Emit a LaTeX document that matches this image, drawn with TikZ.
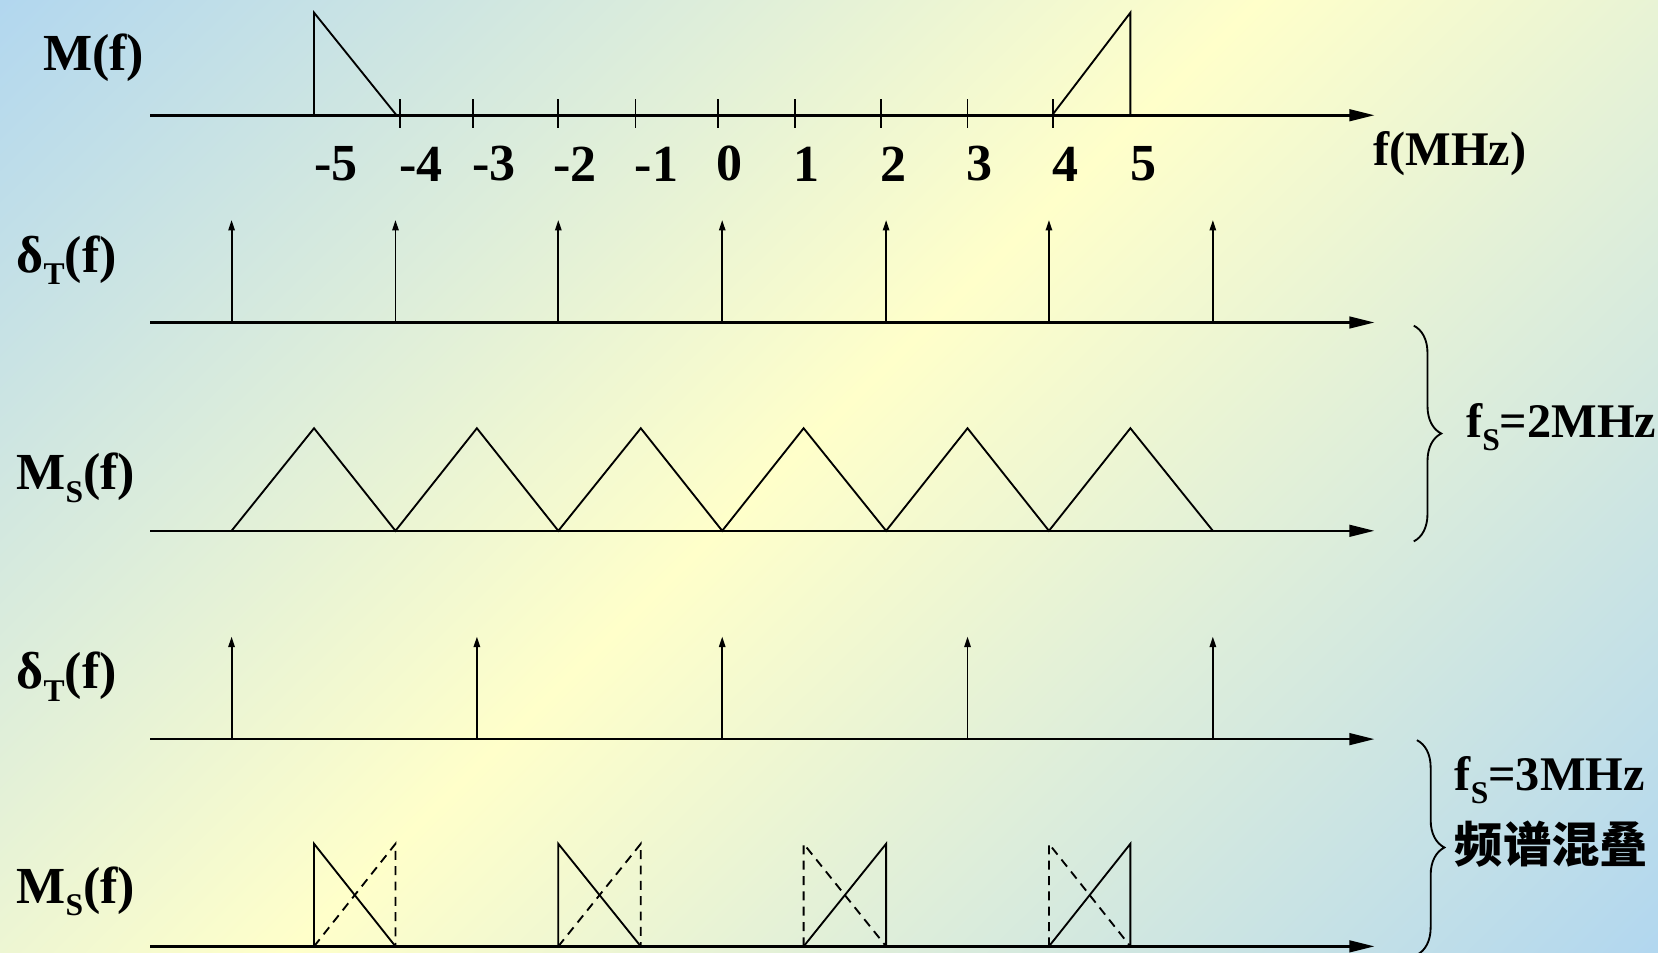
\documentclass[tikz,border=0pt]{standalone}
\usepackage{fontspec}
\setmainfont{Liberation Serif}
\newfontfamily\cjk{Noto Sans CJK SC}
\usetikzlibrary{arrows.meta,decorations.pathreplacing}
\definecolor{bgblue}{RGB}{176,214,240}
\definecolor{bgyellow}{RGB}{255,255,202}
\newcommand{\lowsub}[1]{\raisebox{-3.4pt}{\fontsize{8.5}{9}\selectfont #1}}

\begin{document}
\begin{tikzpicture}[
  ax/.style={line width=0.7pt, -{Triangle[length=2.4mm, width=1.1mm]}},
  sig/.style={line width=0.5pt},
  ghost/.style={line width=0.5pt, dash pattern=on 0.85mm off 0.6mm},
  imp/.style={line width=0.5pt, -{Triangle[length=1mm, width=0.6mm]}},
  lbl/.style={font=\fontsize{14}{16}\selectfont\bfseries, inner sep=0pt, anchor=west},
  num/.style={font=\fontsize{14}{16}\selectfont\bfseries, inner sep=0pt},
  side/.style={font=\fontsize{13}{15}\selectfont\bfseries, inner sep=0pt, anchor=west},
  brc/.style={decorate, decoration={brace, amplitude=2.6mm}, line width=0.5pt}
]
\useasboundingbox (0,0) rectangle (15.68,9.01);

% background
\begin{scope}
\clip (0,0) rectangle (15.68,9.01);
\begin{scope}[transform canvas={shift={(0,9.01)}, rotate=-45.6}]
\shade[left color=bgblue, right color=bgyellow] (-0.2,-14) rectangle (8.35,14);
\shade[left color=bgyellow, right color=bgblue] (8.32,-14) rectangle (17.6,14);
\end{scope}
\end{scope}

% M(f)
\node[lbl] (mlbl) at (0.40,8.46) {M(f)};
\draw[ax] (1.42,7.92) -- (13.00,7.92);
\draw[sig] (2.97,7.92) -- (2.97,8.89) -- (3.75,7.92);
\draw[sig] (9.95,7.92) -- (10.69,8.89) -- (10.69,7.92);
\foreach \x in {3.78,4.47,5.28,6.01,6.79,7.52,8.33,9.15,9.96}
  \draw[sig] (\x,7.80) -- (\x,8.07);
\node[num] (tm5) at (3.18,7.46) {-5};
\node[num] (tm4) at (3.98,7.46) {-4};
\node[num] (tm3) at (4.67,7.46) {-3};
\node[num] (tm2) at (5.44,7.46) {-2};
\node[num] (tm1) at (6.21,7.46) {-1};
\node[num] (t0) at (6.90,7.46) {0};
\node[num] (t1) at (7.63,7.46) {1};
\node[num] (t2) at (8.45,7.46) {2};
\node[num] (t3) at (9.26,7.46) {3};
\node[num] (t4) at (10.08,7.46) {4};
\node[num] (t5) at (10.81,7.46) {5};
\node[side] (funit) at (12.98,7.56) {f(MHz)};

% fs = 2MHz
\node[lbl] (dlbla) at (0.15,6.55) {δ\lowsub{T}(f)};
\draw[ax] (1.42,5.96) -- (13.00,5.96);
\foreach \x in {2.19,3.74,5.28,6.83,8.38,9.92,11.47}
  \draw[imp] (\x,5.96) -- (\x,6.93);

\node[lbl] (mslbla) at (0.15,4.49) {M\lowsub{S}(f)};
\draw[ax] (1.42,3.99) -- (13.00,3.99);
\draw[sig] (2.19,3.99) -- (2.97,4.96) -- (3.74,3.99) -- (4.51,4.96) -- (5.28,3.99)
  -- (6.06,4.96) -- (6.83,3.99) -- (7.60,4.96) -- (8.38,3.99) -- (9.15,4.96)
  -- (9.92,3.99) -- (10.69,4.96) -- (11.47,3.99);

\coordinate (b1top) at (13.37,5.93);
\coordinate (b1bot) at (13.37,3.89);
\draw[brc] (b1top) -- (b1bot);
\node[side] (fs2) at (13.86,4.97) {f\lowsub{S}=2MHz};

% fs = 3MHz
\node[lbl] (dlblb) at (0.15,2.61) {δ\lowsub{T}(f)};
\draw[ax] (1.42,2.02) -- (13.00,2.02);
\foreach \x in {2.19,4.51,6.83,9.15,11.47}
  \draw[imp] (\x,2.02) -- (\x,2.99);

\node[lbl] (mslblb) at (0.15,0.58) {M\lowsub{S}(f)};
\draw[ax] (1.42,0.06) -- (13.00,0.06);
\draw[sig] (2.97,0.06) -- (2.97,1.03) -- (3.74,0.06);
\draw[ghost] (2.97,0.06) -- (3.74,1.03) -- (3.74,0.06);
\draw[sig] (5.28,0.06) -- (5.28,1.03) -- (6.06,0.06);
\draw[ghost] (5.28,0.06) -- (6.06,1.03) -- (6.06,0.06);
\draw[ghost] (7.60,0.06) -- (7.60,1.03) -- (8.38,0.06);
\draw[sig] (7.60,0.06) -- (8.38,1.03) -- (8.38,0.06);
\draw[ghost] (9.92,0.06) -- (9.92,1.03) -- (10.69,0.06);
\draw[sig] (9.92,0.06) -- (10.69,1.03) -- (10.69,0.06);

\coordinate (b2top) at (13.40,2.01);
\coordinate (b2bot) at (13.40,-0.02);
\draw[brc] (b2top) -- (b2bot);
\node[side] (fs3) at (13.75,1.63) {f\lowsub{S}=3MHz};
\node[side, font=\cjk\fontsize{13}{15}\selectfont\bfseries] (alias) at (13.75,1.03) {频谱混叠};
\end{tikzpicture}
\end{document}
